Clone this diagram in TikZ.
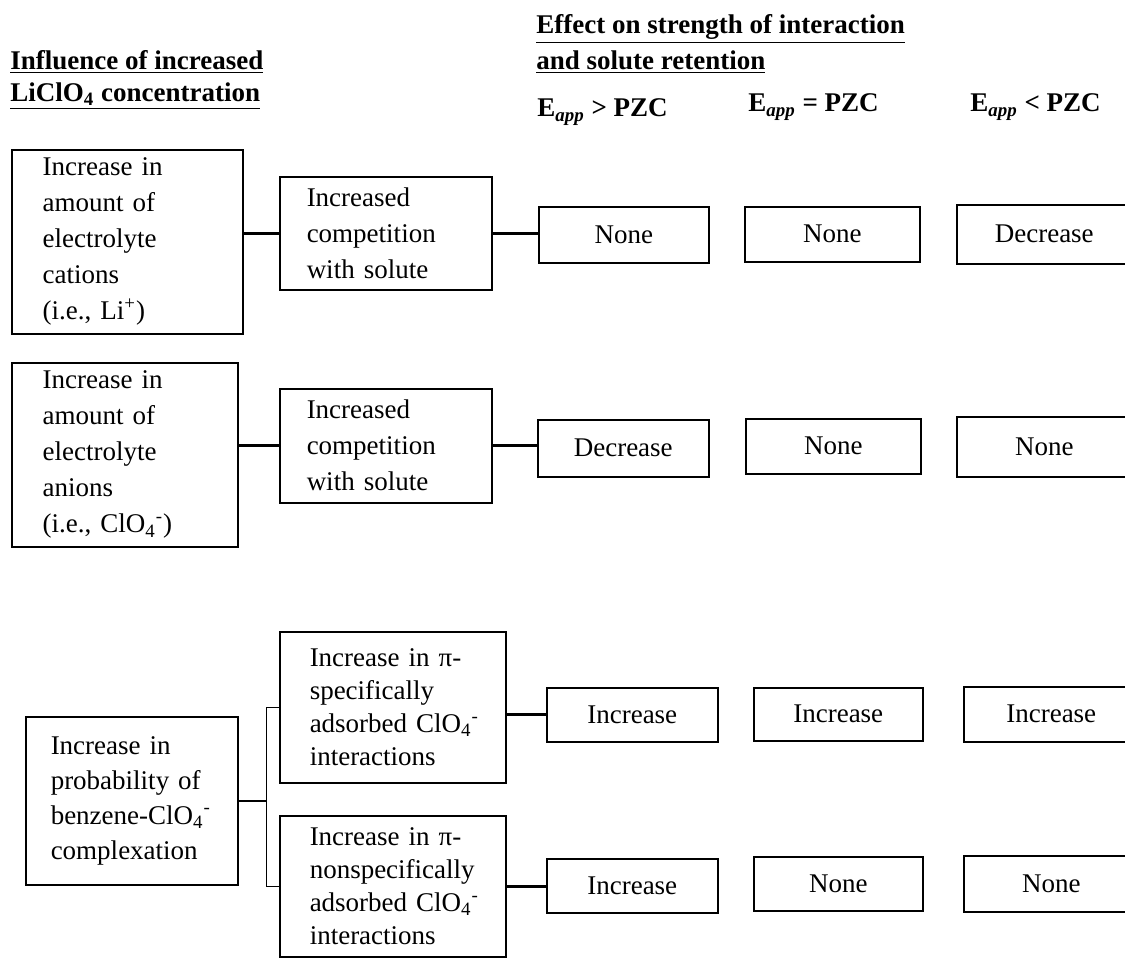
\documentclass[tikz,border=0pt]{standalone}
\usepackage{fontspec}
\setmainfont{Liberation Serif}
\usetikzlibrary{positioning}
\tikzset{
  box/.style={draw, line width=0.75pt, anchor=north west, inner ysep=0pt,
    font=\fontsize{13.5}{18}\selectfont},
  srcbox/.style={box, align=left},
  resbox/.style={box, align=center, inner xsep=0pt},
  head/.style={anchor=north west, align=left, inner sep=0pt,
    font=\bfseries\fontsize{13.5}{17}\selectfont},
  colhead/.style={anchor=west, inner sep=0pt, font=\bfseries\fontsize{13.5}{16}\selectfont},
  link/.style={line width=1.5pt},
  forkln/.style={line width=0.75pt},
}
\newcommand{\perchl}{ClO\textsubscript{4}\textsuperscript{-}}
\begin{document}
\begin{tikzpicture}[x=0.5pt, y=-0.5pt]
  \useasboundingbox (0,0) rectangle (1125,960);
  \clip (0,0) rectangle (1125,960);
  % Headings
  \node[head] (hinfl) at (10,50) {\underline{Influence of increased}\\[-1pt]
    \underline{LiClO\textsubscript{4} concentration}};
  \node[head] (heff) at (536,14) {\underline{Effect on strength of interaction}\\[1pt]
    \underline{and solute retention}};
  \node[colhead] (cgt) at (537,112) {E\textsubscript{\textit{app}} > PZC};
  \node[colhead] (ceq) at (748,107) {E\textsubscript{\textit{app}} = PZC};
  \node[colhead] (clt) at (970,107) {E\textsubscript{\textit{app}} < PZC};
  % Row 1: cations
  \node[srcbox, minimum width=115.5pt, minimum height=92pt, text width=84.5pt,
    inner xsep=15.5pt] (cat) at (11,149)
    {Increase in\\ amount of\\ electrolyte\\ cations\\ (i.e., Li\textsuperscript{+})};
  \node[srcbox, minimum width=106pt, minimum height=56.5pt, text width=79pt,
    inner xsep=13.5pt] (compa) at (279,176)
    {Increased\\ competition\\ with solute};
  \node[resbox, minimum width=85pt, minimum height=28pt] (ra1) at (538,206) {None};
  \node[resbox, minimum width=87.5pt, minimum height=27.5pt] (ra2) at (744,206) {None};
  \node[resbox, minimum width=87.5pt, minimum height=29.5pt] (ra3) at (956,204) {Decrease};
  % Row 2: anions
  \node[srcbox, minimum width=113pt, minimum height=92pt, text width=82pt,
    inner xsep=15.5pt] (ani) at (11,362)
    {Increase in\\ amount of\\ electrolyte\\ anions\\ \mbox{(i.e., \perchl)}};
  \node[srcbox, minimum width=106pt, minimum height=57pt, text width=79pt,
    inner xsep=13.5pt] (compb) at (279,388)
    {Increased\\ competition\\ with solute};
  \node[resbox, minimum width=85.5pt, minimum height=28.5pt] (rb1) at (537,419) {Decrease};
  \node[resbox, minimum width=87.5pt, minimum height=27.5pt] (rb2) at (745,418) {None};
  \node[resbox, minimum width=87.5pt, minimum height=30pt] (rb3) at (956,416) {None};
  % Row 3: benzene complexation
  \node[srcbox, minimum width=106pt, minimum height=84pt, text width=81pt,
    inner xsep=12.5pt, font=\fontsize{13.5}{17.5}\selectfont] (cplx) at (25,716)
    {Increase in\\ probability of\\ \mbox{benzene-\perchl}\\ complexation};
  \node[srcbox, minimum width=113pt, minimum height=75.5pt, text width=83pt,
    inner xsep=15pt, font=\fontsize{13.5}{16.5}\selectfont] (spec) at (279,631)
    {\mbox{Increase in π-}\\ specifically\\ \mbox{adsorbed \perchl}\\ interactions};
  \node[srcbox, minimum width=113pt, minimum height=70.5pt, text width=83pt,
    inner xsep=15pt, font=\fontsize{13.5}{16.5}\selectfont] (nspec) at (279,815)
    {\mbox{Increase in π-}\\ \mbox{nonspecifically}\\ \mbox{adsorbed \perchl}\\ interactions};
  \node[resbox, minimum width=85.5pt, minimum height=27pt] (rc1) at (546,687) {Increase};
  \node[resbox, minimum width=84.5pt, minimum height=26.5pt] (rc2) at (753,687) {Increase};
  \node[resbox, minimum width=87.5pt, minimum height=27.5pt] (rc3) at (963,686) {Increase};
  \node[resbox, minimum width=85.5pt, minimum height=27pt] (rd1) at (546,858) {Increase};
  \node[resbox, minimum width=84.5pt, minimum height=27pt] (rd2) at (753,856) {None};
  \node[resbox, minimum width=87.5pt, minimum height=28pt] (rd3) at (963,855) {None};
  % Connectors
  \draw[link] (compa.west -| cat.east) -- (compa.west);
  \draw[link] (compa.east) -- (compa.east -| ra1.west);
  \draw[link] (compb.west -| ani.east) -- (compb.west);
  \draw[link] (compb.east) -- (compb.east -| rb1.west);
  \draw[forkln] (cplx.east) -- ++(28,0) coordinate (fork);
  \draw[forkln] (spec.west) -| (fork) |- (nspec.west);
  \draw[link] (rc1.west -| spec.east) -- (rc1.west);
  \draw[link] (nspec.east) -- (nspec.east -| rd1.west);
\end{tikzpicture}
\end{document}
